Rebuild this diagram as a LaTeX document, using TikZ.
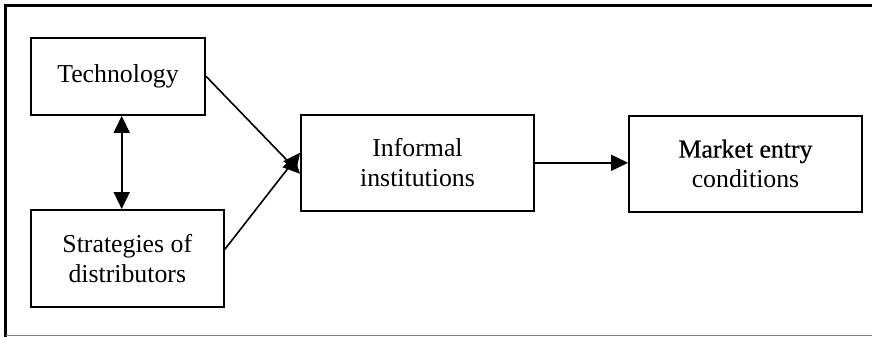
\documentclass[tikz,border=0pt]{standalone}
\usepackage{fontspec}
\setmainfont{Liberation Serif}
\usetikzlibrary{arrows.meta}
\begin{document}
\begin{tikzpicture}[x=1pt,y=-1pt,
  box/.style={draw,line width=1.8pt,inner sep=0pt,align=center,
    font=\fontsize{25.8}{30}\selectfont},
  conn/.style={line width=1.6pt,-{Triangle[length=17pt,width=16pt]}},
  dconn/.style={line width=1.6pt,{Triangle[length=17pt,width=16pt]}-{Triangle[length=17pt,width=16pt]}}]
\useasboundingbox (0,0) rectangle (872,337);
\draw[line width=3pt] (5.5,337) -- (5.5,5.5) -- (872,5.5);
\draw[line width=1.5pt,gray] (5.5,335.5) -- (872,335.5);
\node[box,minimum width=174.3pt,minimum height=77.3pt] (tech) at (118,76.3) {Technology};
\node[box,minimum width=193.3pt,minimum height=96.7pt] (strat) at (127.3,258.3) {Strategies of\\distributors};
\node[box,minimum width=233pt,minimum height=95.7pt] (inf) at (417.5,162.8) {Informal\\institutions};
\node[box,minimum width=233pt,minimum height=96.3pt] (mkt) at (745.5,163.8) {\addfontfeature{FakeBold=0.6}Market entry\\conditions};
\draw[conn] (tech.east) -- ([yshift=-11pt]inf.west);
\draw[conn] ([yshift=9pt]strat.east) -- ([yshift=10pt]inf.west);
\draw[dconn] ([xshift=3.7pt]tech.south) -- ([xshift=-5.6pt]strat.north);
\draw[conn] (inf.east) -- (inf.east -| mkt.west);
\end{tikzpicture}
\end{document}
